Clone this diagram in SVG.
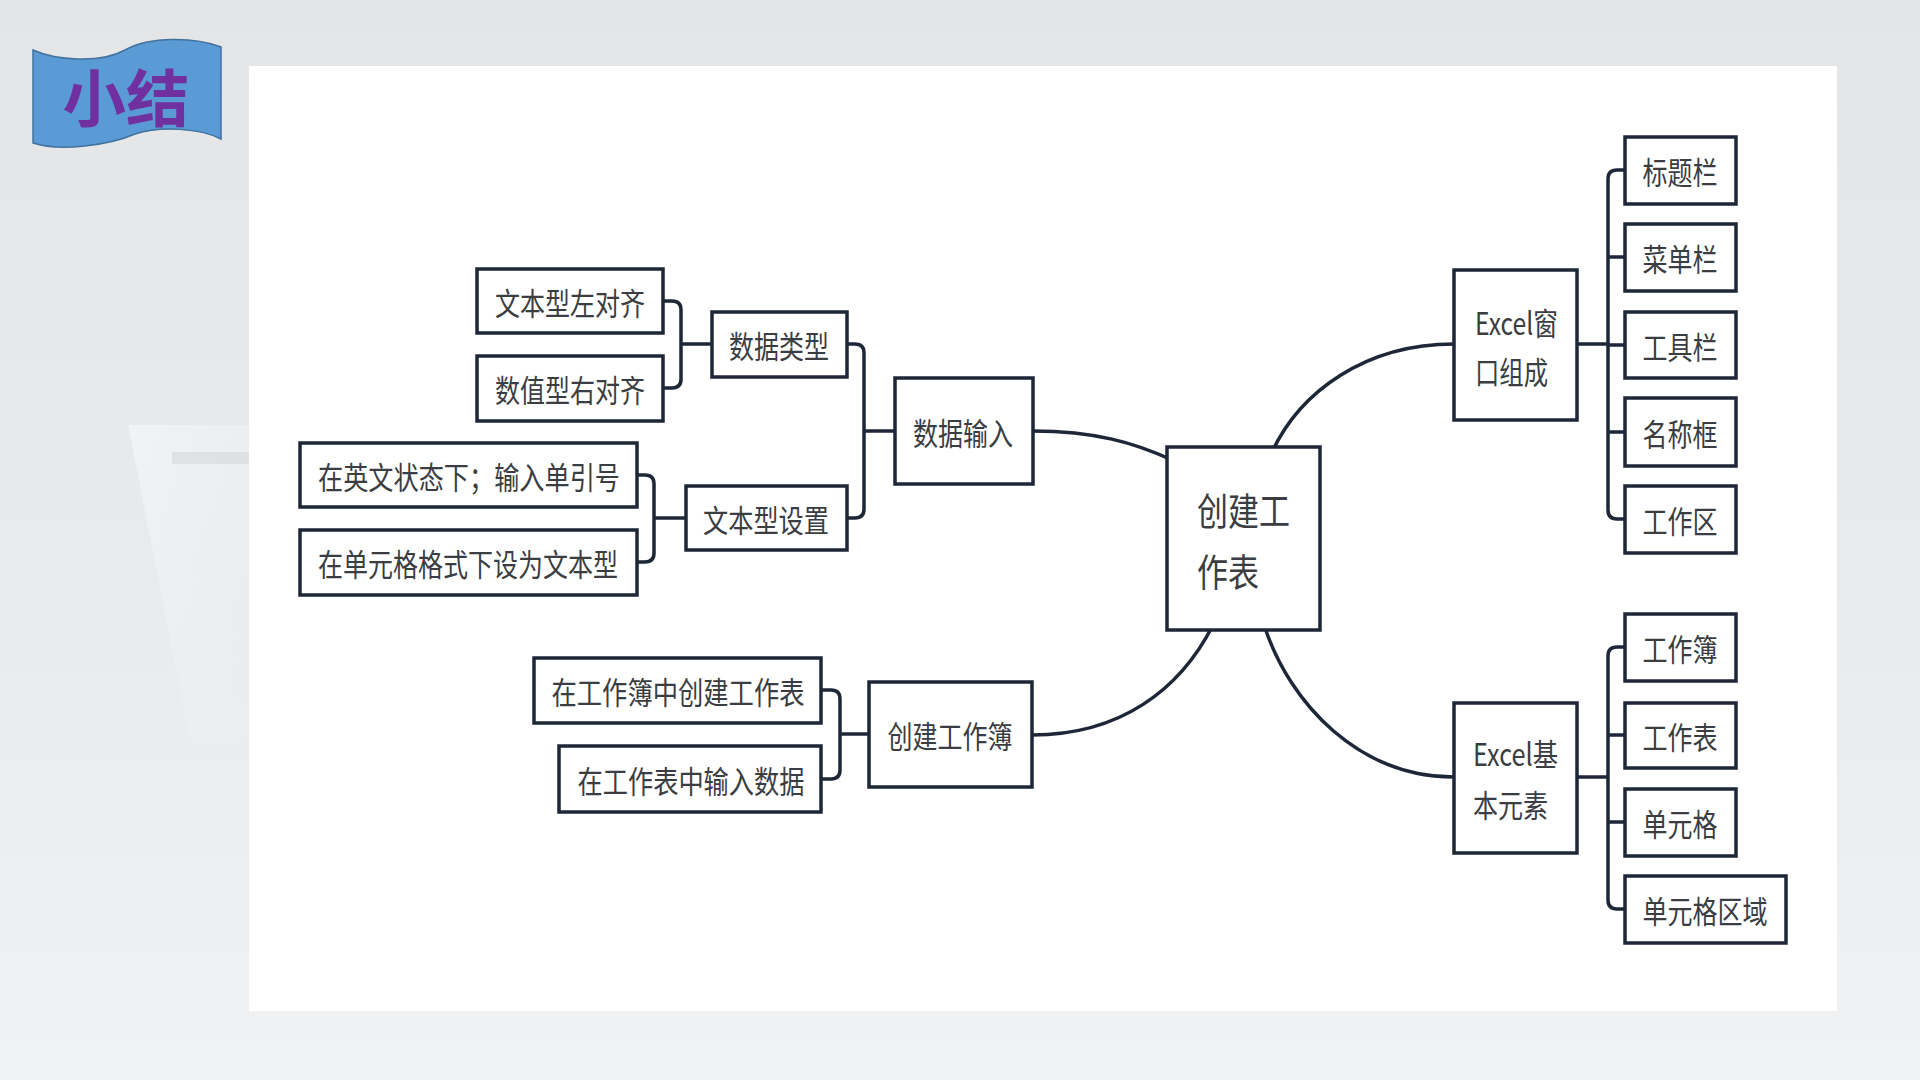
<svg xmlns="http://www.w3.org/2000/svg" width="1920" height="1080" viewBox="0 0 1920 1080">
  <defs>
    <linearGradient id="bg" x1="0" y1="0" x2="0" y2="1">
      <stop offset="0" stop-color="#e3e5e7"/>
      <stop offset="0.6" stop-color="#e9ebec"/>
      <stop offset="1" stop-color="#f1f2f3"/>
    </linearGradient>
    <linearGradient id="sheen" x1="0" y1="0" x2="1" y2="1">
      <stop offset="0" stop-color="#f3f4f5" stop-opacity="0.9"/>
      <stop offset="1" stop-color="#eceeef" stop-opacity="0.3"/>
    </linearGradient>
    <style>
      .box { fill: #ffffff; stroke: #1e2738; stroke-width: 3.5; }
      .lbl { font-family: "Noto Sans CJK SC", "Noto Sans", sans-serif; font-size: 31px; fill: #3a3d42; text-anchor: middle; }
      .lbl2 { font-family: "Noto Sans CJK SC", "Noto Sans", sans-serif; font-size: 31px; fill: #3a3d42; text-anchor: start; }
      .big { font-family: "Noto Sans CJK SC", "Noto Sans", sans-serif; font-size: 38px; fill: #3a3d42; text-anchor: start; }
      .conn { fill: none; stroke: #1e2738; stroke-width: 3.5; stroke-linejoin: round; stroke-linecap: butt; }
    </style>
  </defs>

  <!-- background -->
  <rect x="0" y="0" width="1920" height="1080" fill="url(#bg)"/>
  <path d="M128,425 L249,425 L249,740 L190,740 Z" fill="url(#sheen)"/>
  <rect x="172" y="452" width="77" height="12" fill="#d9dbdd" opacity="0.7"/>
  <rect x="249" y="66" width="1588" height="945" fill="#ffffff"/>

  <!-- title banner -->
  <g id="title">
    <path d="M33,50 C55,60 100,64 125,50 C150,36 195,37 221,47 L221,139 C200,128 160,126 135,134 C110,145 60,152 33,143 Z" fill="#5b9bd5" stroke="#41719c" stroke-width="1.5"/>
    <text x="126" y="122" font-family="'Noto Sans CJK SC', 'Noto Sans', sans-serif" font-size="62" font-weight="700" fill="#7030a0" text-anchor="middle" textLength="127" lengthAdjust="spacingAndGlyphs">小结</text>
  </g>

  <!-- connectors -->
  <g id="connectors" class="conn">
    <path d="M663,301 H672 Q681,301 681,310 V379 Q681,388 672,388 H663"/>
    <path d="M681,344 H712"/>
    <path d="M637,475 H645 Q654,475 654,484 V553 Q654,562 645,562 H637"/>
    <path d="M654,518 H686"/>
    <path d="M847,344 H855 Q864,344 864,353 V509 Q864,518 855,518 H847"/>
    <path d="M864,431 H895"/>
    <path d="M821,690 H831 Q840,690 840,699 V770 Q840,779 831,779 H821"/>
    <path d="M840,734 H869"/>
    <path d="M1625,170 H1617 Q1608,170 1608,179 V510 Q1608,519 1617,519 H1625"/>
    <path d="M1608,257 H1625 M1608,345 H1625 M1608,432 H1625"/>
    <path d="M1577,344 H1608"/>
    <path d="M1625,647 H1617 Q1608,647 1608,656 V900 Q1608,909 1617,909 H1625"/>
    <path d="M1608,735 H1625 M1608,822 H1625"/>
    <path d="M1577,777 H1608"/>
    <path d="M1033,431 C1095,431 1135,443 1172,460"/>
    <path d="M1272,452 C1300,392 1365,344 1454,344"/>
    <path d="M1264,625 C1290,705 1360,777 1454,777"/>
    <path d="M1213,625 C1180,690 1120,735 1032,735"/>
  </g>

  <!-- left branch -->
  <g id="node-wenben-zuo">
    <rect class="box" x="477" y="269" width="186" height="64"/>
    <text class="lbl" x="570" y="315" textLength="150" lengthAdjust="spacingAndGlyphs">文本型左对齐</text>
  </g>
  <g id="node-shuzhi-you">
    <rect class="box" x="477" y="356" width="186" height="65"/>
    <text class="lbl" x="570" y="402" textLength="150" lengthAdjust="spacingAndGlyphs">数值型右对齐</text>
  </g>
  <g id="node-shujuleixing">
    <rect class="box" x="712" y="312" width="135" height="65"/>
    <text class="lbl" x="779" y="358" textLength="100" lengthAdjust="spacingAndGlyphs">数据类型</text>
  </g>
  <g id="node-yingwen">
    <rect class="box" x="300" y="443" width="337" height="64"/>
    <text class="lbl" x="469" y="489" textLength="302" lengthAdjust="spacingAndGlyphs">在英文状态下；输入单引号</text>
  </g>
  <g id="node-danyuangegeshi">
    <rect class="box" x="300" y="530" width="337" height="65"/>
    <text class="lbl" x="468" y="576" textLength="300" lengthAdjust="spacingAndGlyphs">在单元格格式下设为文本型</text>
  </g>
  <g id="node-wenbenshezhi">
    <rect class="box" x="686" y="486" width="161" height="64"/>
    <text class="lbl" x="766" y="532" textLength="126" lengthAdjust="spacingAndGlyphs">文本型设置</text>
  </g>
  <g id="node-shujushuru">
    <rect class="box" x="895" y="378" width="138" height="106"/>
    <text class="lbl" x="963" y="445" textLength="100" lengthAdjust="spacingAndGlyphs">数据输入</text>
  </g>
  <g id="node-chuangjian-gzb-1">
    <rect class="box" x="534" y="658" width="287" height="65"/>
    <text class="lbl" x="678" y="704" textLength="253" lengthAdjust="spacingAndGlyphs">在工作簿中创建工作表</text>
  </g>
  <g id="node-shuru-shuju">
    <rect class="box" x="559" y="746" width="262" height="66"/>
    <text class="lbl" x="691" y="793" textLength="227" lengthAdjust="spacingAndGlyphs">在工作表中输入数据</text>
  </g>
  <g id="node-chuangjian-gzb">
    <rect class="box" x="869" y="682" width="163" height="105"/>
    <text class="lbl" x="950" y="748" textLength="125" lengthAdjust="spacingAndGlyphs">创建工作簿</text>
  </g>

  <!-- center -->
  <g id="node-center">
    <rect class="box" x="1167" y="447" width="153" height="183"/>
    <text class="big" x="1197" y="525" textLength="93" lengthAdjust="spacingAndGlyphs">创建工</text>
    <text class="big" x="1197" y="586" textLength="62" lengthAdjust="spacingAndGlyphs">作表</text>
  </g>

  <!-- right branch -->
  <g id="node-excel-window">
    <rect class="box" x="1454" y="270" width="123" height="150"/>
    <text class="lbl2" x="1475" y="335" textLength="83" lengthAdjust="spacingAndGlyphs">Excel窗</text>
    <text class="lbl2" x="1475" y="384" textLength="73" lengthAdjust="spacingAndGlyphs">口组成</text>
  </g>
  <g id="node-biaotilan">
    <rect class="box" x="1625" y="137" width="111" height="67"/>
    <text class="lbl" x="1680" y="184" textLength="75" lengthAdjust="spacingAndGlyphs">标题栏</text>
  </g>
  <g id="node-caidanlan">
    <rect class="box" x="1625" y="224" width="111" height="67"/>
    <text class="lbl" x="1680" y="271" textLength="75" lengthAdjust="spacingAndGlyphs">菜单栏</text>
  </g>
  <g id="node-gongjulan">
    <rect class="box" x="1625" y="312" width="111" height="66"/>
    <text class="lbl" x="1680" y="359" textLength="75" lengthAdjust="spacingAndGlyphs">工具栏</text>
  </g>
  <g id="node-mingchengkuang">
    <rect class="box" x="1625" y="398" width="111" height="68"/>
    <text class="lbl" x="1680" y="446" textLength="75" lengthAdjust="spacingAndGlyphs">名称框</text>
  </g>
  <g id="node-gongzuoqu">
    <rect class="box" x="1625" y="486" width="111" height="67"/>
    <text class="lbl" x="1680" y="533" textLength="75" lengthAdjust="spacingAndGlyphs">工作区</text>
  </g>

  <g id="node-excel-basic">
    <rect class="box" x="1454" y="703" width="123" height="150"/>
    <text class="lbl2" x="1473" y="766" textLength="85" lengthAdjust="spacingAndGlyphs">Excel基</text>
    <text class="lbl2" x="1473" y="817" textLength="75" lengthAdjust="spacingAndGlyphs">本元素</text>
  </g>
  <g id="node-gongzuobu">
    <rect class="box" x="1625" y="614" width="111" height="67"/>
    <text class="lbl" x="1680" y="661" textLength="75" lengthAdjust="spacingAndGlyphs">工作簿</text>
  </g>
  <g id="node-gongzuobiao">
    <rect class="box" x="1625" y="703" width="111" height="65"/>
    <text class="lbl" x="1680" y="749" textLength="75" lengthAdjust="spacingAndGlyphs">工作表</text>
  </g>
  <g id="node-danyuange">
    <rect class="box" x="1625" y="789" width="111" height="67"/>
    <text class="lbl" x="1680" y="836" textLength="75" lengthAdjust="spacingAndGlyphs">单元格</text>
  </g>
  <g id="node-danyuangequyu">
    <rect class="box" x="1625" y="876" width="161" height="67"/>
    <text class="lbl" x="1705" y="923" textLength="125" lengthAdjust="spacingAndGlyphs">单元格区域</text>
  </g>
</svg>
